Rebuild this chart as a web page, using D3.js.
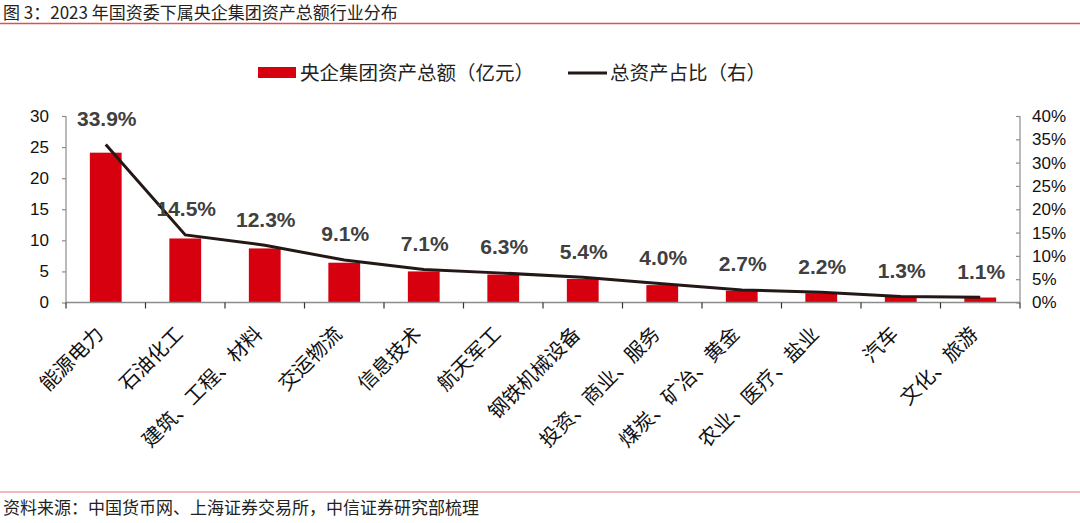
<!DOCTYPE html>
<html><head><meta charset="utf-8">
<script src="https://cdn.jsdelivr.net/npm/d3@7"></script>
<style>
html,body{margin:0;padding:0;background:#fff;}
svg{display:block;}
</style></head>
<body>
<svg id="c" width="1080" height="523"></svg>
<script>
const categories = ["能源电力","石油化工","建筑、工程、材料","交运物流","信息技术","航天军工","钢铁机械设备","投资、商业、服务","煤炭、矿冶、黄金","农业、医疗、盐业","汽车","文化、旅游"];
const assets = [24.1, 10.3, 8.7, 6.4, 5.0, 4.5, 3.8, 2.8, 1.9, 1.5, 0.9, 0.8];
const shares = [33.9, 14.5, 12.3, 9.1, 7.1, 6.3, 5.4, 4.0, 2.7, 2.2, 1.3, 1.1];
const leftTicks = [0,5,10,15,20,25,30];
const rightTicks = [0,5,10,15,20,25,30,35,40];

const svg = d3.select("#c");
const FONT = "'Liberation Sans', Arial, 'Noto Sans CJK SC', sans-serif";
const CJK = "'Noto Sans CJK SC', sans-serif";
const axisColor = "#8c8c8c";

const L = 66, R = 1020, T = 116, B = 302.5;
const x = d3.scaleBand().domain(categories).range([L, R]).paddingInner(0.6).paddingOuter(0.3);
const y = d3.scaleLinear().domain([0,30]).range([B, T]);
const y2 = d3.scaleLinear().domain([0,40]).range([B, T]);

// title
svg.append("text").attr("x",3).attr("y",19).attr("font-family",CJK).attr("font-size",17).attr("fill","#222")
  .text("图 3：2023 年国资委下属央企集团资产总额行业分布");
svg.append("line").attr("x1",0).attr("x2",1080).attr("y1",23.5).attr("y2",23.5).attr("stroke","#d9534f").attr("stroke-width",1.5);
// footer
svg.append("line").attr("x1",0).attr("x2",1080).attr("y1",492).attr("y2",492).attr("stroke","#e07878").attr("stroke-width",1.2);
svg.append("text").attr("x",3).attr("y",514).attr("font-family",CJK).attr("font-size",17).attr("fill","#222")
  .text("资料来源：中国货币网、上海证券交易所，中信证券研究部梳理");

// legend
svg.append("rect").attr("x",258).attr("y",67).attr("width",38).attr("height",11).attr("fill","#d7000f");
svg.append("text").attr("x",300).attr("y",80).attr("font-family",CJK).attr("font-size",19.5).attr("fill","#222").text("央企集团资产总额（亿元）");
svg.append("line").attr("x1",568).attr("x2",607).attr("y1",73).attr("y2",73).attr("stroke","#231815").attr("stroke-width",3);
svg.append("text").attr("x",610).attr("y",80).attr("font-family",CJK).attr("font-size",19.5).attr("fill","#222").text("总资产占比（右）");

// bars
svg.append("g").selectAll("rect").data(assets).join("rect")
  .attr("x",(d,i)=>x(categories[i])).attr("width",x.bandwidth())
  .attr("y",d=>y(d)).attr("height",d=>B-y(d)).attr("fill","#d7000f");

// axes
const gl = svg.append("g").attr("transform",`translate(${L},0)`)
  .call(d3.axisLeft(y).tickValues(leftTicks).tickSize(4).tickPadding(13));
const gr = svg.append("g").attr("transform",`translate(${R},0)`)
  .call(d3.axisRight(y2).tickValues(rightTicks).tickSize(-4).tickPadding(12).tickFormat(d=>d+"%"));
[gl,gr].forEach(g=>{
  g.select(".domain").attr("stroke",axisColor).attr("stroke-width",1.2);
  g.selectAll(".tick line").attr("stroke",axisColor).attr("stroke-width",1.2);
  g.selectAll(".tick text").attr("font-family",FONT).attr("font-size",17).attr("fill","#111");
});
gr.select(".domain").attr("d",`M0,${T}V${B}`);
gl.select(".domain").attr("d",`M0,${T}V${B}`);

// x axis
const boundaries = d3.range(categories.length+1).map(i=>L + i*(R-L)/categories.length);
svg.append("line").attr("x1",L).attr("x2",R).attr("y1",B).attr("y2",B).attr("stroke",axisColor).attr("stroke-width",1.5);
svg.append("g").selectAll("line").data(boundaries).join("line")
  .attr("x1",d=>d).attr("x2",d=>d).attr("y1",B).attr("y2",B+6).attr("stroke","#333").attr("stroke-width",1.2);

// x labels
svg.append("g").selectAll("text").data(categories).join("text")
  .attr("transform",d=>`translate(${x(d)+x.bandwidth()/2-6},${B+28}) rotate(-45)`)
  .attr("text-anchor","end").attr("dy","0.35em")
  .attr("font-family",CJK).attr("font-size",20).attr("fill","#111").text(d=>d);

// line
const cx = d=>x(d)+x.bandwidth()/2;
svg.append("path").datum(shares)
  .attr("d",d3.line().x((d,i)=>cx(categories[i])).y(d=>y2(d)))
  .attr("fill","none").attr("stroke","#231815").attr("stroke-width",3);

// labels
svg.append("g").selectAll("text").data(shares).join("text")
  .attr("x",(d,i)=>cx(categories[i])+1).attr("y",d=>y2(d)-26).attr("dy","0.35em")
  .attr("text-anchor","middle").attr("font-family",FONT).attr("font-weight","bold")
  .attr("font-size",21).attr("fill","#404040").text(d=>d.toFixed(1)+"%");
</script>
</body></html>
